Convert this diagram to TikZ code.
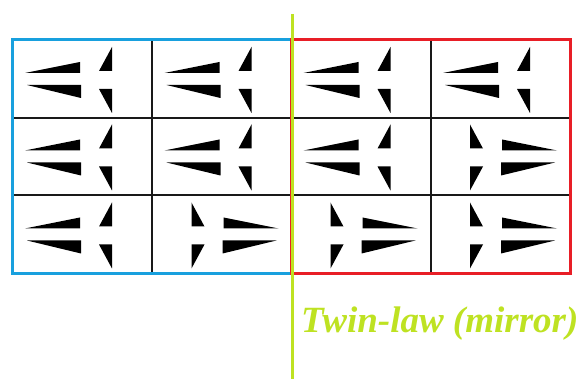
\documentclass[tikz,border=0pt]{standalone}
\usepackage{fontspec}
\setmainfont{Liberation Serif}
\definecolor{twinblue}{RGB}{24,160,222}
\definecolor{twinred}{RGB}{232,30,38}
\definecolor{twingreen}{RGB}{190,226,34}
\tikzset{
  motif/.pic={
    \fill (-57,-6)--(-2,-17)--(-2,-6)--cycle;
    \fill (-55,6)--(-1,6)--(-1,19)--cycle;
    \fill (17,-8)--(30,-32)--(30,-8)--cycle;
    \fill (17,10)--(30,10)--(30,34)--cycle;
  },
  gridline/.style={line width=2pt,black!90},
  domainbox/.style={line width=3pt},
}
\begin{document}
\begin{tikzpicture}[x=1pt,y=-1pt]
\useasboundingbox (0,0) rectangle (582,379);
% inner grid
\draw[gridline] (152,40)--(152,274) (431,40)--(431,274);
\draw[gridline] (12,118)--(570,118) (12,195)--(570,195);
% motifs
\foreach \x/\y in {82/79,221.5/79,360.5/79,500/79,82/156.5,221.5/156.5,360.5/156.5,82/234.5}
  \pic at (\x,\y) {motif};
\foreach \x/\y in {500/156.5,221.5/234.5,360.5/234.5,500/234.5}
  \pic[xscale=-1] at (\x,\y) {motif};
% domain boxes
\draw[domainbox,twinblue] (12,40) rectangle (291,274);
\draw[domainbox,twinred] (291,40) rectangle (570,274);
% mirror line
\coordinate (mtop) at (292,14);
\coordinate (mbot) at (292,379);
\draw[line width=3pt,twingreen] (mtop)--(mbot);
\node[anchor=base west,inner sep=0pt,text=twingreen,font=\fontsize{37}{42}\selectfont\bfseries\itshape] (law) at (301,333) {Twin-law (mirror)};
\end{tikzpicture}
\end{document}
